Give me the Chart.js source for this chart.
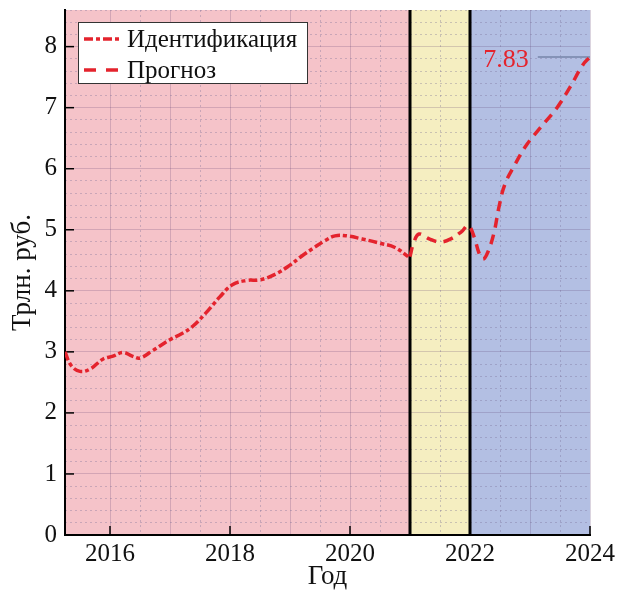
<!DOCTYPE html>
<html>
<head>
<meta charset="utf-8">
<script src="https://cdn.jsdelivr.net/npm/chart.js@4.4.1/dist/chart.umd.min.js"></script>
<style>
  html, body { margin: 0; padding: 0; background: #fff; }
</style>
</head>
<body>
<canvas id="myChart" width="617" height="590"></canvas>
<script>
const ctx = document.getElementById('myChart').getContext('2d');

// Идентификация (год, трлн. руб.)
const identYears = [2015.25, 2015.35, 2015.5, 2015.67, 2015.88, 2016.05, 2016.22, 2016.37, 2016.5, 2016.71,
  2017.0, 2017.2, 2017.38, 2017.61, 2017.83, 2018.04, 2018.28, 2018.5, 2018.75, 2019.0,
  2019.17, 2019.42, 2019.58, 2019.75, 2019.95, 2020.2, 2020.5, 2020.75, 2020.97];
const identValues = [3.0, 2.78, 2.68, 2.72, 2.88, 2.93, 2.99, 2.93, 2.9, 3.02,
  3.2, 3.3, 3.42, 3.65, 3.9, 4.1, 4.17, 4.18, 4.27, 4.42,
  4.55, 4.72, 4.82, 4.9, 4.9, 4.85, 4.78, 4.71, 4.56];

// Прогноз
const forecastYears = [2021.0, 2021.06, 2021.15, 2021.32, 2021.5, 2021.68, 2021.86, 2021.97, 2022.07, 2022.15,
  2022.22, 2022.3, 2022.4, 2022.48, 2022.58, 2022.75, 2022.95, 2023.17, 2023.45, 2023.67, 2023.88, 2024.0];
const forecastValues = [4.56, 4.78, 4.93, 4.85, 4.8, 4.85, 4.97, 5.07, 4.88, 4.62,
  4.52, 4.64, 4.95, 5.36, 5.74, 6.07, 6.4, 6.67, 7.0, 7.34, 7.7, 7.83];

// последнее значение прогноза и отрезок-метка
const lastValue = 7.83;
const lastValueYears = [2023.13, 2024];

// границы периодов (идентификация / переход / прогноз)
const periodBounds = [2015.25, 2021, 2022, 2024];

const xTickLabels = [2016, 2018, 2020, 2022, 2024];
const yTickLabels = [0, 1, 2, 3, 4, 5, 6, 7, 8];

const FONT = "'Liberation Serif', 'Times New Roman', serif";
const RED = '#e4232d';
const periodColors = ['#f5c3c9', '#f5eec1', '#b3bfe3'];
const majorGrid = 'rgba(90,60,110,0.22)';
const minorGrid = 'rgba(120,110,150,0.35)';

const near = (v, list) => list.some(t => Math.abs(v - t) < 1e-6);
const isMult = (v, s) => Math.abs(v / s - Math.round(v / s)) < 1e-6;

const toPoints = (xs, ys) => xs.map((t, i) => ({x: t, y: ys[i]}));

// убираем автоматические отступы под крайние подписи
const noPad = s => { s.paddingTop = 0; s.paddingBottom = 0; s.paddingLeft = 0; s.paddingRight = 0; };

const decor = {
  id: 'decor',
  beforeDraw(chart) {
    const {ctx, chartArea: a, scales: {x}} = chart;
    ctx.save();
    for (let i = 0; i < periodBounds.length - 1; i++) {
      const x1 = x.getPixelForValue(periodBounds[i]);
      const x2 = x.getPixelForValue(periodBounds[i + 1]);
      ctx.fillStyle = periodColors[i];
      ctx.fillRect(x1, a.top, x2 - x1, a.bottom - a.top);
    }
    ctx.restore();
  },
  beforeDatasetsDraw(chart) {
    const {ctx, chartArea: a, scales: {x, y}} = chart;
    ctx.save();
    // границы периодов
    ctx.strokeStyle = '#000';
    ctx.lineWidth = 3;
    [periodBounds[1], periodBounds[2]].forEach(v => {
      const px = x.getPixelForValue(v);
      ctx.beginPath();
      ctx.moveTo(px, a.top);
      ctx.lineTo(px, a.bottom);
      ctx.stroke();
    });
    // засечки внутрь
    ctx.lineWidth = 1.5;
    xTickLabels.forEach(v => {
      const px = x.getPixelForValue(v);
      ctx.beginPath();
      ctx.moveTo(px, a.bottom);
      ctx.lineTo(px, a.bottom - 9);
      ctx.stroke();
    });
    yTickLabels.forEach(v => {
      const py = y.getPixelForValue(v);
      ctx.beginPath();
      ctx.moveTo(a.left, py);
      ctx.lineTo(a.left + 9, py);
      ctx.stroke();
    });
    ctx.restore();
  },
  afterDraw(chart) {
    const {ctx, chartArea: a, scales: {x, y}} = chart;
    ctx.save();
    // подпись последнего значения
    ctx.font = '26px ' + FONT;
    ctx.fillStyle = RED;
    ctx.textAlign = 'right';
    ctx.textBaseline = 'middle';
    ctx.fillText(lastValue.toFixed(2), x.getPixelForValue(lastValueYears[0]) - 9, y.getPixelForValue(lastValue) + 3);

    // легенда
    const lx = a.left + 13, ly = a.top + 12, lw = 229, lh = 61;
    ctx.fillStyle = '#fff';
    ctx.fillRect(lx, ly, lw, lh);
    ctx.strokeStyle = '#333';
    ctx.lineWidth = 1;
    ctx.strokeRect(lx + 0.5, ly + 0.5, lw, lh);
    const ds = chart.data.datasets;
    const rows = [[ds[0], [9, 3, 4, 3], 17], [ds[1], [12, 10], 48]];
    ctx.font = '25px ' + FONT;
    ctx.textAlign = 'left';
    rows.forEach(([d, dash, dy]) => {
      ctx.strokeStyle = RED;
      ctx.lineWidth = 3.5;
      ctx.setLineDash(dash);
      ctx.beginPath();
      ctx.moveTo(lx + 6, ly + dy);
      ctx.lineTo(lx + 42, ly + dy);
      ctx.stroke();
      ctx.setLineDash([]);
      ctx.fillStyle = '#111';
      ctx.fillText(d.label, lx + 49, ly + dy + 1);
    });
    ctx.restore();
  }
};

const chartConfig = {
  type: 'line',
  data: {
    datasets: [{
      label: 'Идентификация',
      data: toPoints(identYears, identValues),
      borderColor: RED,
      borderWidth: 3.5,
      borderDash: [9, 3, 4, 3],
      pointRadius: 0,
      tension: 0.4,
      fill: false
    }, {
      label: 'Прогноз',
      data: toPoints(forecastYears, forecastValues),
      borderColor: RED,
      borderWidth: 3.5,
      borderDash: [10, 7],
      pointRadius: 0,
      tension: 0.4,
      fill: false
    }, {
      label: 'last',
      data: toPoints(lastValueYears, [lastValue, lastValue]),
      borderColor: '#7685a8',
      borderWidth: 1.5,
      pointRadius: 0,
      fill: false
    }]
  },
  options: {
    responsive: false,
    animation: false,
    layout: { padding: { top: 10, right: 27, left: 0, bottom: 0 } },
    plugins: { legend: { display: false }, tooltip: { enabled: false } },
    scales: {
      x: {
        type: 'linear',
        position: 'bottom',
        min: 2015.25,
        max: 2024,
        ticks: {
          stepSize: 0.5,
          autoSkip: false,
          maxRotation: 0,
          padding: 4,
          color: '#111',
          font: { family: FONT, size: 25 },
          callback: v => near(v, xTickLabels) ? String(Math.round(v)) : ''
        },
        grid: {
          drawTicks: false,
          color: c => (c.tick && isMult(c.tick.value, 1)) ? majorGrid : 'transparent'
        },
        border: { color: '#000', width: 2 },
        title: {
          display: true,
          text: 'Год',
          color: '#111',
          font: { family: FONT, size: 27, lineHeight: 1 },
          padding: { top: 0, bottom: 0 }
        },
        afterFit: s => { s.height = 55; noPad(s); }
      },
      x2: {
        type: 'linear',
        position: 'bottom',
        min: 2015.25,
        max: 2024,
        ticks: { display: false, stepSize: 0.5, autoSkip: false },
        grid: {
          drawTicks: false,
          color: c => (c.tick && isMult(c.tick.value, 0.5) && !isMult(c.tick.value, 1)) ? minorGrid : 'transparent'
        },
        border: { display: false, dash: [2, 3] },
        afterFit: s => { s.height = 0; noPad(s); }
      },
      y: {
        position: 'left',
        min: 0,
        max: 8.6,
        ticks: {
          stepSize: 0.2,
          autoSkip: false,
          padding: 8,
          color: '#111',
          font: { family: FONT, size: 25 },
          callback: v => near(v, yTickLabels) ? String(Math.round(v)) : ''
        },
        grid: {
          drawTicks: false,
          color: c => (c.tick && isMult(c.tick.value, 1)) ? majorGrid : 'transparent'
        },
        border: { color: '#000', width: 2 },
        title: {
          display: true,
          text: 'Трлн. руб.',
          color: '#111',
          font: { family: FONT, size: 27, lineHeight: 1 },
          padding: { top: 9, bottom: 0 }
        },
        afterFit: s => { s.width = 65; noPad(s); }
      },
      y2: {
        position: 'left',
        min: 0,
        max: 8.6,
        ticks: { display: false, stepSize: 0.2, autoSkip: false },
        grid: {
          drawTicks: false,
          color: c => (c.tick && !isMult(c.tick.value, 1)) ? minorGrid : 'transparent'
        },
        border: { display: false, dash: [2, 3] },
        afterFit: s => { s.width = 0; noPad(s); }
      }
    }
  },
  plugins: [decor]
};

const myChart = new Chart(ctx, chartConfig);
</script>
</body>
</html>
